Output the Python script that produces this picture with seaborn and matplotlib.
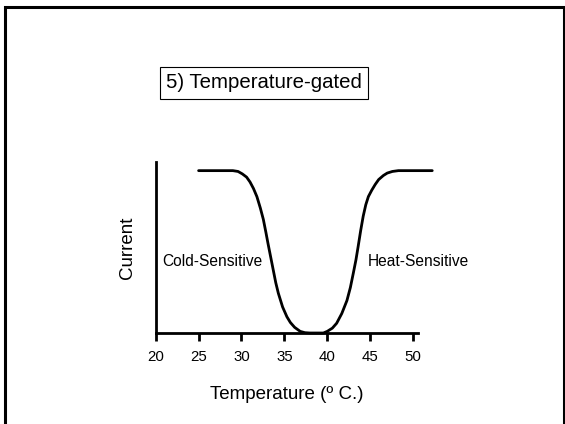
import numpy as np
import matplotlib
matplotlib.use("Agg")
import matplotlib.pyplot as plt
import seaborn as sns
from matplotlib.patches import Rectangle

# curve (temperature in deg C, relative current)
temperature = [25.0, 27.0, 29.0, 29.6, 30.1, 30.6, 31.0, 31.4, 31.8, 32.2,
               32.55, 32.85, 33.1, 33.4, 33.7, 34.0, 34.3, 34.8, 35.3, 35.7,
               36.2, 36.85, 37.4, 38.0, 39.55, 40.0, 40.6, 41.1, 41.7, 42.3,
               42.7, 43.05, 43.35, 43.6, 43.9, 44.2, 44.5, 44.8, 45.2, 45.6,
               46.0, 46.55, 47.0, 47.6, 48.3, 50.0, 52.25]
current = [1.0, 1.0, 1.0, 0.995, 0.98, 0.96, 0.93, 0.89, 0.84, 0.77,
           0.70, 0.62, 0.55, 0.47, 0.39, 0.31, 0.245, 0.16, 0.10, 0.065,
           0.035, 0.01, 0.002, 0.0, 0.0, 0.01, 0.03, 0.06, 0.12, 0.20,
           0.28, 0.37, 0.45, 0.53, 0.63, 0.72, 0.79, 0.84, 0.88, 0.915,
           0.945, 0.97, 0.985, 0.995, 1.0, 1.0, 1.0]
x_ticks = [20, 25, 30, 35, 40, 45, 50]

sns.set_style("ticks", {"text.color": "black", "axes.labelcolor": "black",
                        "xtick.color": "black", "axes.edgecolor": "black"})
plt.rcParams["font.family"] = ["Liberation Sans", "DejaVu Sans"]

fig = plt.figure(figsize=(5.65, 4.24), dpi=100)
ax = fig.add_axes([0.2756, 0.2146, 0.4644, 0.404])

sns.lineplot(x=temperature, y=current, ax=ax, color="black", linewidth=2,
             clip_on=False)

ax.set_xlim(20, 50.6)
ax.set_ylim(0, 1.055)
ax.set_xticks(x_ticks)
ax.set_yticks([])
ax.tick_params(axis="x", direction="out", length=6, width=2, labelsize=10.8,
               pad=6, colors="black")
for side in ["top", "right"]:
    ax.spines[side].set_visible(False)
for side in ["left", "bottom"]:
    ax.spines[side].set_linewidth(2)
    ax.spines[side].set_color("black")

ax.set_xlabel("Temperature (º C.)", fontsize=13.5, labelpad=16, color="black")
ax.set_ylabel("Current", fontsize=13.5, labelpad=14, color="black")

fig.text(162 / 565, 1 - 261 / 424, "Cold-Sensitive", fontsize=11.2,
         ha="left", va="center", color="black")
fig.text(368 / 565, 1 - 261 / 424, "Heat-Sensitive", fontsize=11.2,
         ha="left", va="center", color="black")

fig.text(264 / 565, 1 - 83 / 424, "5) Temperature-gated", fontsize=14.7,
         ha="center", va="center", color="black",
         bbox=dict(boxstyle="square,pad=0.3", facecolor="white",
                   edgecolor="black", linewidth=0.8))

fig.patches.append(Rectangle((5 / 565, -0.05), 559 / 565, 1 - 7 / 424 + 0.05,
                             transform=fig.transFigure, fill=False,
                             edgecolor="black", linewidth=2.2))

fig.savefig("out.png", dpi=100)
